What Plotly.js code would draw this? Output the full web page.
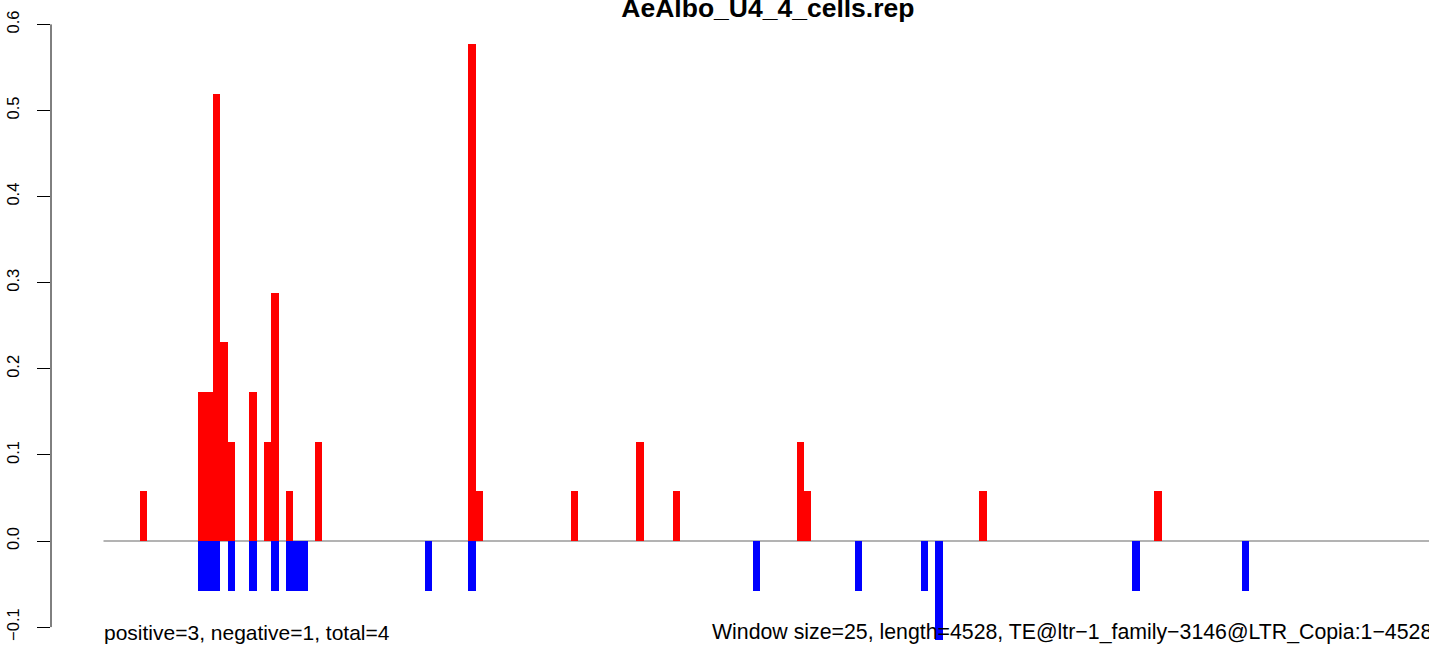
<!DOCTYPE html>
<html>
<head>
<meta charset="utf-8">
<script src="https://cdn.plot.ly/plotly-3.0.1.min.js"></script>
<style>html,body{margin:0;padding:0;background:#fff;}#chart{width:1429px;height:645px;}</style>
</head>
<body>
<div id="chart"></div>
<script>
// ---- data ----
const WINDOW = 25;
const SEQ_LENGTH = 4528;
const chartTitle = "AeAlbo_U4_4_cells.rep";
const leftNote = "positive=3, negative=1, total=4";
const rightNote = "Window size=25, length=4528, TE@ltr\u22121_family\u22123146@LTR_Copia:1\u22124528";

// positive-strand windows (window index) and values
const posWindows = [5, 13, 14, 15, 16, 17, 20, 22, 23, 25, 29, 50, 51, 64, 73, 78, 95, 96, 120, 144];
const posValues  = [0.0577, 0.1731, 0.1731, 0.5192, 0.2308, 0.1154, 0.1731, 0.1154, 0.2885, 0.0577,
                    0.1154, 0.5769, 0.0577, 0.0577, 0.1154, 0.0577, 0.1154, 0.0577, 0.0577, 0.0577];

// negative-strand windows (window index) and values
const negWindows = [13, 14, 15, 17, 20, 23, 25, 26, 27, 44, 50, 89, 103, 112, 114, 141, 156];
const negValues  = [-0.0577, -0.0577, -0.0577, -0.0577, -0.0577, -0.0577, -0.0577, -0.0577, -0.0577,
                    -0.0577, -0.0577, -0.0577, -0.0577, -0.0577, -0.1154, -0.0577, -0.0577];

// y axis ticks
const yTickVals = [-0.1, 0.0, 0.1, 0.2, 0.3, 0.4, 0.5, 0.6];
const yTickText = ["\u22120.1", "0.0", "0.1", "0.2", "0.3", "0.4", "0.5", "0.6"];

// ---- layout constants ----
const FONT = "Liberation Sans, Arial, Helvetica, sans-serif";
const nWindows = Math.ceil(SEQ_LENGTH / WINDOW);
const xRange = [-179.85, 4540.75];
const yRange = [-0.12079, 0.62834];
const yPaper = v => (v - yRange[0]) / (yRange[1] - yRange[0]);

const toX = w => w.map(i => i * WINDOW + WINDOW / 2);

const traces = [
  {type: 'bar', x: toX(posWindows), y: posValues, width: WINDOW,
   marker: {color: '#FF0000', line: {width: 0}}, hoverinfo: 'x+y', showlegend: false},
  {type: 'bar', x: toX(negWindows), y: negValues, width: WINDOW,
   marker: {color: '#0000FF', line: {width: 0}}, hoverinfo: 'x+y', showlegend: false}
];

const layout = {
  width: 1429, height: 645,
  margin: {l: 51, r: 0, t: 0, b: 0, pad: 0},
  paper_bgcolor: '#ffffff', plot_bgcolor: '#ffffff',
  barmode: 'overlay', bargap: 0,
  showlegend: false,
  font: {family: FONT, color: '#000000'},
  title: {
    text: '<b>' + chartTitle + '</b>',
    font: {family: FONT, size: 26.5, color: '#000000'},
    xref: 'container', x: 767.9 / 1429, xanchor: 'center',
    yref: 'container', y: 1 - 7.4 / 645, yanchor: 'middle'
  },
  xaxis: {range: xRange, showgrid: false, zeroline: false, showline: false,
          showticklabels: false, ticks: '', fixedrange: true},
  yaxis: {range: yRange, showgrid: false, zeroline: false, showline: false,
          tickmode: 'array', tickvals: yTickVals, ticktext: yTickText,
          ticks: 'outside', ticklen: 13, tickwidth: 1, tickcolor: '#000000',
          ticklabelstandoff: 11,
          tickangle: -90, tickfont: {family: FONT, size: 16.5, color: '#000000'},
          fixedrange: true},
  shapes: [
    {type: 'line', xref: 'x', yref: 'y', x0: 0, x1: nWindows * WINDOW, y0: 0, y1: 0,
     line: {color: '#9a9a9a', width: 1.6}, layer: 'below'},
    {type: 'line', xref: 'paper', yref: 'paper', x0: 0, x1: 0,
     y0: yPaper(yTickVals[0]), y1: yPaper(yTickVals[yTickVals.length - 1]),
     line: {color: '#000000', width: 1}}
  ],
  annotations: [
    {text: leftNote, xref: 'paper', yref: 'paper', x: (102.3 - 51) / 1378, y: 1 - 632 / 645,
     xanchor: 'left', yanchor: 'middle', showarrow: false,
     font: {family: FONT, size: 21, color: '#000000'}},
    {text: rightNote, xref: 'paper', yref: 'paper', x: (709.7 - 51) / 1378, y: 1 - 632 / 645,
     xanchor: 'left', yanchor: 'middle', showarrow: false,
     font: {family: FONT, size: 21.3, color: '#000000'}}
  ]
};

Plotly.newPlot('chart', traces, layout, {displayModeBar: false, staticPlot: true});
</script>
</body>
</html>
